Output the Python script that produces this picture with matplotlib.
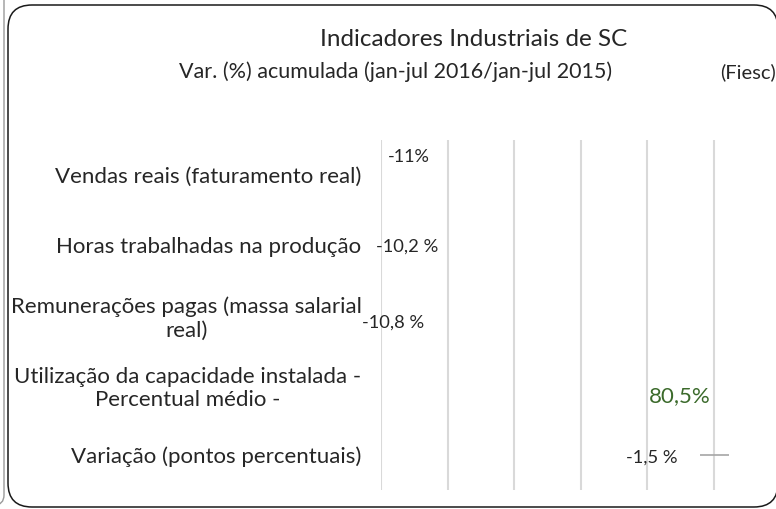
import matplotlib.pyplot as plt
from matplotlib.patches import FancyBboxPatch

# dados (Fiesc) - var. % acumulada jan-jul 2016 / jan-jul 2015
categorias = [
    "Vendas reais (faturamento real)",
    "Horas trabalhadas na produção",
    "Remunerações pagas (massa salarial\nreal)",
    "Utilização da capacidade instalada -\nPercentual médio -",
    "Variação (pontos percentuais)",
]
valores = [-11.0, -10.2, -10.8, 80.5, -1.5]
rotulos = ["-11%", "-10,2 %", "-10,8 %", "80,5%", "-1,5 %"]

# onde os rotulos ficam (layout, nao dados)
rotulo_x = [8.4, 7.8, 3.6, 89.9, 81.5]
rotulo_dy = [-0.26, 0.03, 0.11, 0.16, 0.04]
rotulo_cor = ["#262626", "#262626", "#262626", "#3b6a2b", "#262626"]
rotulo_tam = [13, 13.2, 13.2, 16, 13.2]

plt.rcParams['font.family'] = ['Lato', 'DejaVu Sans']

W, H = 776, 509
fig = plt.figure(figsize=(W / 100, H / 100), dpi=100)

# moldura do grafico
bg = fig.add_axes([0, 0, 1, 1])
bg.set_xlim(0, W)
bg.set_ylim(H, 0)
bg.axis('off')
bg.add_patch(FancyBboxPatch((8, 5), 770, 502, boxstyle="round,pad=0,rounding_size=24",
                            fc='white', ec='#1a1a1a', lw=1.1))
bg.add_patch(FancyBboxPatch((-100, -40), 104, 545, boxstyle="round,pad=0,rounding_size=10",
                            fc='none', ec='#9a9a9a', lw=1.0))

left, right = 381, 747
top, bottom = 140, 490
ax = fig.add_axes([left / W, 1 - bottom / H, (right - left) / W, (bottom - top) / H])
ax.patch.set_alpha(0)

y = list(range(len(categorias)))
ax.barh(y, valores, height=0.6, color='none', edgecolor='none')
ax.set_xlim(0, 110)
ax.set_ylim(len(categorias) - 0.5, -0.5)
ax.set_xticks([0, 20, 40, 60, 80, 100])
ax.grid(axis='x', color='#d9d9d9', lw=1.5)
ax.set_axisbelow(True)
ax.tick_params(length=0, labelbottom=False)
ax.set_yticks(y)
ax.set_yticklabels(categorias, fontsize=16, color='#262626', multialignment='center')
ax.tick_params(axis='y', pad=14)
for s in ax.spines.values():
    s.set_visible(False)

for i, txt in enumerate(rotulos):
    ax.text(rotulo_x[i], i + rotulo_dy[i], txt, ha='center', va='center',
            fontsize=rotulo_tam[i], color=rotulo_cor[i])

# pequeno traco da variacao em p.p.
ax.hlines(4, 95.9, 104.6, color='#a6a6a6', lw=1.2)

fig.text(474 / W, 1 - 40 / H, "Indicadores Industriais de SC", ha='center', va='center',
         fontsize=17.5, color='#262626')
fig.text(396 / W, 1 - 72 / H, "Var. (%) acumulada (jan-jul 2016/jan-jul 2015)",
         ha='center', va='center', fontsize=15.5, color='#262626')
fig.text(748 / W, 1 - 72 / H, "(Fiesc)", ha='center', va='center', fontsize=14.5, color='#262626')

fig.savefig('out.png', dpi=100)
